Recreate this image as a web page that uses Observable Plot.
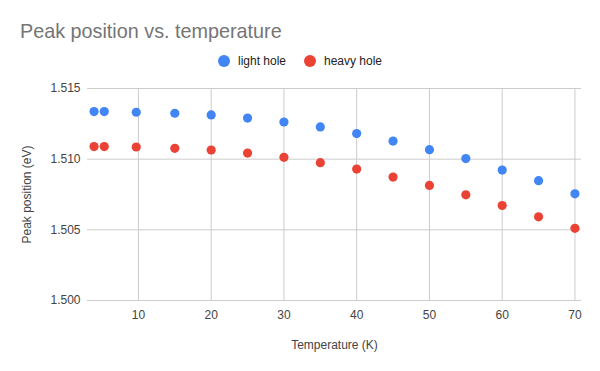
<!DOCTYPE html>
<html>
<head>
<meta charset="utf-8">
<script src="https://cdn.jsdelivr.net/npm/d3@7"></script>
<script src="https://cdn.jsdelivr.net/npm/@observablehq/plot@0.6"></script>
<style>
  body { margin: 0; background: #fff; font-family: "Liberation Sans", Arial, sans-serif; }
  #wrap { position: relative; width: 600px; height: 371px; }
  #title { position: absolute; left: 20px; top: 20px; font-size: 19.8px; line-height: 22px; color: #757575; white-space: nowrap; }
  .leg { position: absolute; top: 54px; font-size: 12px; color: #222; display: flex; align-items: center; white-space: nowrap; }
  .leg span.dot { display: inline-block; width: 12px; height: 12px; border-radius: 50%; margin-right: 8px; }
  #plot { position: absolute; left: 0; top: 80px; }
</style>
</head>
<body>
<div id="wrap">
  <div id="title">Peak position vs. temperature</div>
  <div class="leg" style="left:218px"><span class="dot" style="background:#4285F4"></span>light hole</div>
  <div class="leg" style="left:304px"><span class="dot" style="background:#EA4335"></span>heavy hole</div>
  <div id="plot"></div>
</div>
<script>
const temperature = [3.9, 5.3, 9.7, 15, 20, 25, 30, 35, 40, 45, 50, 55, 60, 65, 70];
const lightHole = [1.51337, 1.51337, 1.51332, 1.51325, 1.51313, 1.51291, 1.51263, 1.51228, 1.51181, 1.51128, 1.51067, 1.51004, 1.50923, 1.50848, 1.50755];
const heavyHole = [1.51089, 1.51089, 1.51086, 1.51077, 1.51065, 1.51043, 1.51013, 1.50975, 1.50930, 1.50873, 1.50814, 1.50748, 1.50672, 1.50592, 1.50511];
const seriesNames = ["light hole", "heavy hole"];
const seriesColors = ["#4285F4", "#EA4335"];
const xTicks = [10, 20, 30, 40, 50, 60, 70];
const yTicks = [1.500, 1.505, 1.510, 1.515];

const data = [];
temperature.forEach((t, i) => {
  data.push({T: t, v: lightHole[i], s: seriesNames[0]});
});
temperature.forEach((t, i) => {
  data.push({T: t, v: heavyHole[i], s: seriesNames[1]});
});

const chart = Plot.plot({
  width: 600,
  height: 291,
  marginTop: 8,
  marginBottom: 71,
  marginLeft: 87,
  marginRight: 19,
  style: {fontFamily: "'Liberation Sans', Arial, sans-serif", fontSize: "12px", color: "#444", background: "#fff"},
  x: {domain: [3, 70.9], ticks: xTicks, label: null},
  y: {domain: [1.500, 1.515], ticks: yTicks, label: null},
  color: {domain: seriesNames, range: seriesColors},
  marks: [
    Plot.gridX(xTicks, {stroke: "#ccc", strokeOpacity: 1}),
    Plot.gridY(yTicks, {stroke: "#ccc", strokeOpacity: 1}),
    Plot.axisX(xTicks, {tickSize: 0, tickPadding: 10, fill: "#444", fontSize: 12,
      label: "Temperature (K)", labelAnchor: "center", labelArrow: "none", labelOffset: 48}),
    Plot.axisY(yTicks, {tickSize: 0, tickPadding: 7, fill: "#444", fontSize: 12, tickFormat: d3.format(".3f"),
      label: "Peak position (eV)", labelAnchor: "center", labelArrow: "none", labelOffset: 65}),
    Plot.dot(data, {x: "T", y: "v", fill: "s", r: 4.6, stroke: null})
  ]
});
document.getElementById("plot").appendChild(chart);
</script>
</body>
</html>
